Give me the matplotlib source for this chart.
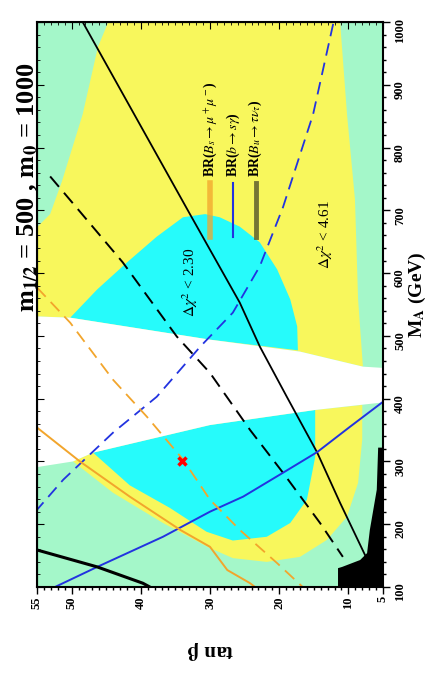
import matplotlib
matplotlib.use("Agg")
import matplotlib.pyplot as plt
from matplotlib.ticker import MultipleLocator

plt.rcParams['font.family'] = ['Liberation Serif', 'DejaVu Serif']
plt.rcParams['mathtext.fontset'] = 'stix'

# colours of the regions
green = '#a4f7c9'
yellow = '#f8f75c'
cyan = '#26fbfb'
orange = '#f2a52c'
blue = '#2233e0'

# region boundaries, (tan beta, M_A) pairs
yellow_up_tb = [44.7, 46.2, 48.4, 51.4, 53.1, 55, 55, 50.2, 30.0, 17.0, 7.9, 8.6, 9.05, 10.2, 11.2]
yellow_up_ma = [1000, 960, 853, 746, 694, 673, 531, 529, 494, 475, 451, 558, 717, 853, 1000]

cyan_up_tb = [50.2, 46.3, 42.0, 37.7, 33.9, 30.7, 28.6, 25.7, 22.8, 20.3, 18.4, 17.4, 17.3, 30.0]
cyan_up_ma = [529, 574, 617, 658, 689, 694, 689, 674, 649, 606, 558, 515, 477, 494]

white_tb = [55, 50.2, 30.0, 17.0, 7.9, 5, 5, 8.3, 14.8, 30.0, 46.9, 49.8, 55]
white_ma = [531, 529, 494, 475, 451, 449, 394, 390, 382, 358, 314, 300, 291]

yellow_low_tb = [49.8, 44.0, 36.8, 30.0, 26.7, 21.8, 17.0, 13.1, 10.2, 8.6, 8.0, 8.0, 14.8, 30.0, 46.9]
yellow_low_ma = [300, 250, 202, 162, 146, 140, 148, 175, 212, 266, 335, 390, 382, 358, 314]

cyan_low_tb = [46.9, 41.6, 35.8, 30.5, 26.7, 21.8, 18.4, 16.0, 14.8, 14.8, 30.0]
cyan_low_ma = [314, 262, 226, 188, 174, 180, 202, 239, 307, 382, 358]

black_tb = [11.5, 11.5, 10.9, 8.3, 7.3, 6.9, 5.9, 5.7, 5.0, 5.0]
black_ma = [100, 130, 132, 143, 154, 191, 255, 322, 322, 100]

# constraint lines
bu_tb = [48.4, 32.9, 25.7, 22.8, 18.9, 14.5, 11.2, 7.6]
bu_ma = [1000, 694, 553, 483, 403, 314, 234, 151]
bu_dash_tb = [53.1, 48.8, 42.6, 34.8, 30.0, 24.2, 19.45, 14.1, 10.8]
bu_dash_ma = [754, 698, 617, 499, 441, 350, 282, 202, 148]
bsg_tb = [52.4, 46.3, 36.8, 30.0, 25.2, 19.45, 14.5, 9.8, 5.0]
bsg_ma = [100, 132, 180, 220, 244, 282, 315, 355, 395]
bsg_dash_tb = [12.2, 15.1, 19.45, 22.8, 26.7, 31.4, 37.7, 44.0, 51.2, 55.0]
bsg_dash_ma = [997, 853, 705, 611, 537, 483, 403, 346, 271, 223]
bsmm_tb = [55, 48.8, 41.6, 34.3, 30.0, 27.5, 24.2, 23.5]
bsmm_ma = [354, 300, 244, 191, 164, 127, 106, 100]
bsmm_dash_tb = [55, 50.2, 44.0, 39.1, 33.9, 30.0, 25.7, 20.3, 16.6]
bsmm_dash_ma = [577, 521, 430, 371, 303, 239, 191, 138, 100]
lep_tb = [55, 46.3, 39.7, 38.7]
lep_ma = [159, 132, 106, 100]

best_fit = (34, 300)

tb_ticks = [55, 50, 40, 30, 20, 10, 5]
ma_ticks = [100, 200, 300, 400, 500, 600, 700, 800, 900, 1000]

fig = plt.figure(figsize=(4.31, 6.75), dpi=100)
ax = fig.add_axes([37/431, 1-587/675, 346/431, 565/675])
ax.set_facecolor(green)

ax.fill(yellow_up_tb, yellow_up_ma, color=yellow, lw=0, zorder=1)
ax.fill(cyan_up_tb, cyan_up_ma, color=cyan, lw=0, zorder=1.1)
ax.fill(white_tb, white_ma, color='white', lw=0, zorder=1.2)
ax.fill(yellow_low_tb, yellow_low_ma, color=yellow, lw=0, zorder=1)
ax.fill(cyan_low_tb, cyan_low_ma, color=cyan, lw=0, zorder=1.1)
ax.fill(black_tb, black_ma, color='black', lw=0, zorder=1.3)

dash = (0, (7, 4))
ax.plot(bu_tb, bu_ma, color='black', lw=1.3, zorder=3)
ax.plot(bu_dash_tb, bu_dash_ma, color='black', lw=1.4, ls=dash, zorder=3)
ax.plot(bsg_tb, bsg_ma, color=blue, lw=1.4, zorder=3)
ax.plot(bsg_dash_tb, bsg_dash_ma, color=blue, lw=1.3, ls=dash, zorder=3)
ax.plot(bsmm_tb, bsmm_ma, color=orange, lw=1.4, zorder=3)
ax.plot(bsmm_dash_tb, bsmm_dash_ma, color=orange, lw=1.3, ls=dash, zorder=3)
ax.plot(lep_tb, lep_ma, color='black', lw=2.2, zorder=3)
ax.plot(*best_fit, marker='x', color='red', ms=6, mew=2.5, zorder=4)

# legend, drawn by hand because it is rotated
leg = [(r'BR($B_s \rightarrow \mu^+\mu^-$)', orange, 4, 0.75),
       (r'BR($b \rightarrow s\gamma$)', blue, 1.5, 1.0),
       (r'BR($B_u \rightarrow \tau\nu_\tau$)', '#55552a', 3.5, 0.8)]
for i, (lab, c, w, a) in enumerate(leg):
    xx = 0.50 + 0.066 * i
    ax.plot([xx, xx], [0.62, 0.715], color=c, lw=w, alpha=a,
            transform=ax.transAxes, zorder=4)
    ax.text(xx, 0.725, lab, rotation=90, ha='center', va='bottom',
            fontsize=10, fontweight='bold', transform=ax.transAxes, zorder=4)

ax.text(32.9, 585, r'$\Delta\chi^2$ < 2.30', rotation=90, ha='center', va='center',
        fontsize=11, zorder=4)
ax.text(13.4, 662, r'$\Delta\chi^2$ < 4.61', rotation=90, ha='center', va='center',
        fontsize=11, zorder=4)

ax.set_xlim(55, 5)
ax.set_ylim(100, 1000)
ax.set_xticks(tb_ticks)
ax.set_xticklabels([str(t) for t in tb_ticks])
ax.xaxis.set_minor_locator(MultipleLocator(1))
ax.set_yticks(ma_ticks)
ax.yaxis.set_minor_locator(MultipleLocator(20))
ax.yaxis.tick_right()
ax.tick_params(which='both', direction='out', labelsize=9, width=1)
ax.tick_params(which='major', length=5)
ax.tick_params(which='minor', length=2.5)
ax.tick_params(axis='x', labelrotation=90, pad=1.5)
ax.tick_params(axis='y', labelrotation=90, pad=3)
for lab in ax.get_xticklabels() + ax.get_yticklabels():
    lab.set_fontweight('bold')
for s in ax.spines.values():
    s.set_linewidth(1.5)
    s.set_zorder(5)

top = ax.secondary_xaxis('top')
top.set_xticks(tb_ticks)
top.xaxis.set_minor_locator(MultipleLocator(1))
top.tick_params(which='both', direction='in', labeltop=False)
top.tick_params(which='major', length=5)
top.tick_params(which='minor', length=2.5)
top.set_zorder(6)
left = ax.secondary_yaxis('left')
left.set_yticks(ma_ticks)
left.yaxis.set_minor_locator(MultipleLocator(20))
left.tick_params(which='both', direction='in', labelleft=False)
left.tick_params(which='major', length=5)
left.tick_params(which='minor', length=2.5)
left.set_zorder(6)

fig.text(28/431, 1-187/675, r'$\mathbf{m_{1/2}}$ = 500 , $\mathbf{m_0}$ = 1000',
         rotation=90, ha='center', va='center', fontsize=19, fontweight='bold')
fig.text(417/431, 1-295/675, r'$\mathbf{M_A}$ (GeV)', rotation=90, ha='center',
         va='center', fontsize=14, fontweight='bold')
fig.text(210/431, 1-650/675, r'tan $\mathbf{\beta}$', rotation=180, ha='center',
         va='center', fontsize=15, fontweight='bold')

fig.savefig('out.png', dpi=100)
